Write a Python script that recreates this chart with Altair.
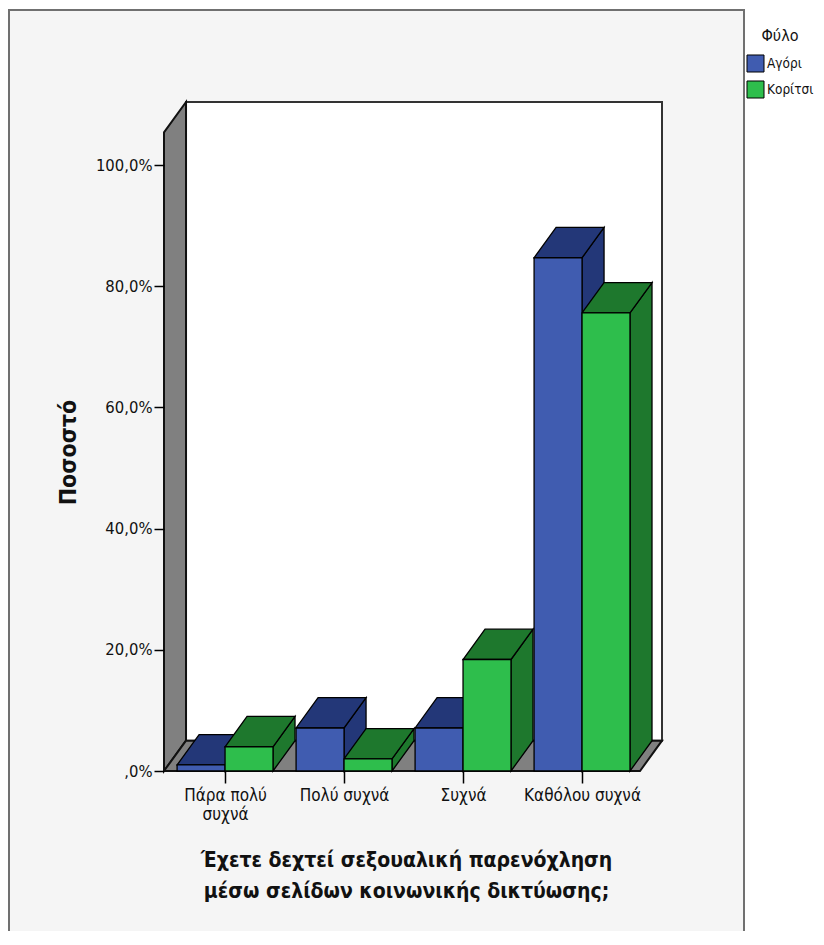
import json
import altair as alt
import pandas as pd

# ---------------- data ----------------
categories = ["Πάρα πολύ συχνά", "Πολύ συχνά", "Συχνά", "Καθόλου συχνά"]
tick_labels = [["Πάρα πολύ", "συχνά"], ["Πολύ συχνά"], ["Συχνά"], ["Καθόλου συχνά"]]
series = ["Αγόρι", "Κορίτσι"]
boys = [1.0, 7.1, 7.1, 84.7]
girls = [4.0, 2.0, 18.4, 75.6]
y_ticks = [0, 20, 40, 60, 80, 100]
front_colors = ["#405cb0", "#2ebe4c"]
shade_colors = ["#233778", "#1e782d"]

x_title = ["Έχετε δεχτεί σεξουαλική παρενόχληση", "μέσω σελίδων κοινωνικής δικτύωσης;"]
y_title = "Ποσοστό"
legend_title = "Φύλο"

# ---------------- geometry (3D look) ----------------
BW = 0.403      # bar width (category units)
DX = 0.185      # depth offset in x (category units)
DY = 5.0        # depth offset in y (percent units)
X0 = -0.513     # front-left edge of the floor
XFR = 3.487     # front-right edge of the floor
YMAX = 110.4
xscale = alt.Scale(domain=[X0, XFR + DX], nice=False, zero=False)
yscale = alt.Scale(domain=[0, YMAX], nice=False)

FONT = "Liberation Sans Narrow, Arial Narrow, DejaVu Sans Condensed, Liberation Sans, sans-serif"

values = [boys, girls]
fronts, tops, sides = [], [], []
for i, cat in enumerate(categories):
    for s, name in enumerate(series):
        v = values[s][i]
        x0 = i - BW if s == 0 else i
        x1 = x0 + BW
        bid = f"{i}-{s}"
        fronts.append({"cat": cat, "Φύλο": name, "x": x0, "x2": x1, "y": 0, "y2": v})
        tops.append({"id": bid, "shade": shade_colors[s], "y": v, "x": x0, "x2": x1})
        tops.append({"id": bid, "shade": shade_colors[s], "y": v + DY, "x": x0 + DX, "x2": x1 + DX})
        sides.append({"id": bid, "shade": shade_colors[s], "x": x1, "y": 0, "y2": v})
        sides.append({"id": bid, "shade": shade_colors[s], "x": x1 + DX, "y": DY, "y2": v + DY})

df_front = pd.DataFrame(fronts)
df_top = pd.DataFrame(tops)
df_side = pd.DataFrame(sides)
df_lwall = pd.DataFrame([{"x": X0, "y": 0, "y2": YMAX - DY}, {"x": X0 + DX, "y": DY, "y2": YMAX}])
df_floor = pd.DataFrame([{"y": 0, "x": X0, "x2": XFR}, {"y": DY, "x": X0 + DX, "x2": XFR + DX}])
df_bwall = pd.DataFrame([{"x": X0 + DX, "x2": XFR + DX, "y": DY, "y2": YMAX}])
df_one = pd.DataFrame([{"a": 1}])

x_label_expr = json.dumps(tick_labels, ensure_ascii=False) + "[datum.value]"
y_label_expr = "datum.value == 0 ? ',0%' : replace(format(datum.value, '.1f'), '.', ',') + '%'"

x_axis = alt.Axis(
    values=[0, 1, 2, 3], labelExpr=x_label_expr, grid=False, domain=False, zindex=2,
    tickSize=12, tickColor="black", tickWidth=1.5, labelPadding=4,
    labelFontSize=17, labelLineHeight=19, labelColor="#111111", labelFont=FONT,
    labelBaseline="top",
    title=x_title, titleFont=FONT, titleFontSize=21, titleFontWeight="bold",
    titleLineHeight=31, titleX=242, titleY=78, titleBaseline="top", titleAlign="center",
    titleColor="#111111",
)
y_axis = alt.Axis(
    values=y_ticks, labelExpr=y_label_expr, grid=False, domain=False, zindex=2,
    tickSize=10, tickColor="black", tickWidth=1.5, labelPadding=2,
    labelFontSize=16.5, labelColor="#111111", labelFont=FONT,
    title=y_title, titleFont=FONT, titleFontSize=23, titleFontWeight="bold",
    titleX=-96, titleY=350, titleAngle=270, titleAlign="center", titleBaseline="middle",
    titleColor="#111111",
)

def X(field="x"):
    return alt.X(f"{field}:Q", scale=xscale, axis=x_axis)

def Y(field="y"):
    return alt.Y(f"{field}:Q", scale=yscale, axis=y_axis)

# outer panel frame (decoration)
frame = alt.Chart(df_one).mark_rect(fill="#f5f5f5", stroke="#707070", strokeWidth=2).encode(
    x=alt.value(-155), x2=alt.value(580), y=alt.value(-92), y2=alt.value(900)
)

back_wall = alt.Chart(df_bwall).mark_rect(fill="white", stroke="#333333", strokeWidth=2).encode(
    x=X(), x2="x2:Q", y=Y(), y2="y2:Q",
)

left_wall = alt.Chart(df_lwall).mark_area(fill="#808080", stroke="#111111", strokeWidth=2, orient="vertical").encode(
    x=X(), y=Y(), y2="y2:Q",
)

floor = alt.Chart(df_floor).mark_area(fill="#808080", stroke="#111111", strokeWidth=2, orient="horizontal").encode(
    y=Y(), x=X(), x2="x2:Q",
)

side_faces = alt.Chart(df_side).mark_area(stroke="black", strokeWidth=1.3, orient="vertical").encode(
    x=X(), y=Y(), y2="y2:Q",
    fill=alt.Fill("shade:N", scale=None),
    detail="id:N",
)

top_faces = alt.Chart(df_top).mark_area(stroke="black", strokeWidth=1.3, orient="horizontal").encode(
    y=Y(), x=X(), x2="x2:Q",
    fill=alt.Fill("shade:N", scale=None),
    detail="id:N",
)

front_faces = alt.Chart(df_front).mark_rect(stroke="black", strokeWidth=1.3).encode(
    x=X(), x2="x2:Q", y=Y(), y2="y2:Q",
    color=alt.Color("Φύλο:N", scale=alt.Scale(domain=series, range=front_colors),
                    legend=alt.Legend(title=legend_title)),
)

chart = alt.layer(
    frame, back_wall, left_wall, floor, side_faces, top_faces, front_faces
).properties(
    width=498, height=669,
    autosize=alt.AutoSizeParams(type="none"),
    padding={"left": 156, "top": 94, "right": 154, "bottom": 160},
).configure(
    background="white",
).configure_view(
    stroke=None,
).configure_legend(
    orient="none", legendX=582, legendY=-74, padding=0,
    titleFont=FONT, titleFontSize=16, titleFontWeight="normal", titleColor="#111111",
    titleAnchor="middle", titlePadding=10,
    labelFont=FONT, labelFontSize=13.5, labelColor="#111111",
    symbolType="square", symbolSize=290, symbolStrokeColor="black", symbolStrokeWidth=1,
    symbolOpacity=1, rowPadding=3, labelOffset=2,
)

chart.save("out.html", embed_options={"renderer": "svg", "actions": False})
